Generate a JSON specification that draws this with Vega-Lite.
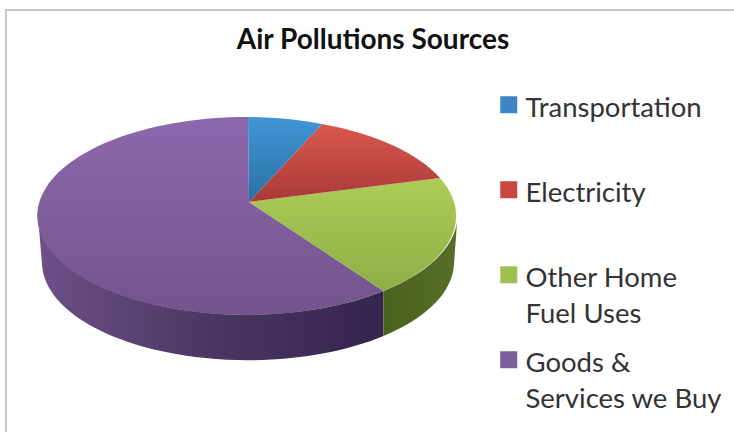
{"$schema":"https://vega.github.io/schema/vega-lite/v6.json","width":734,"height":426,"autosize":"none","padding":{"left":6,"top":10,"right":-6,"bottom":-4},"background":"#ffffff","view":{"stroke":"#c8c8c8","strokeWidth":2,"fill":null},"title":{"text":"Air Pollutions Sources","font":"Lato","fontSize":28,"fontWeight":"bold","color":"#111111","anchor":"middle","baseline":"alphabetic","offset":0,"dy":67},"data":{"values":[{"source":"Transportation","share":7},{"source":"Electricity","share":13},{"source":"Other Home Fuel Uses","share":19},{"source":"Goods & Services we Buy","share":61}]},"layer":[{"mark":{"type":"point","filled":true,"size":4,"opacity":1,"shape":"square"},"encoding":{"color":{"field":"source","type":"nominal","sort":null,"scale":{"domain":["Transportation","Electricity","Other Home Fuel Uses","Goods & Services we Buy"],"range":["#3d85c4","#c8473f","#9fc04f","#7e5d9d"]},"legend":{"title":null,"orient":"none","legendX":489,"legendY":81,"symbolType":"square","symbolSize":289,"symbolStrokeWidth":0,"labelFont":"Lato","labelFontSize":27.5,"labelColor":"#333333","labelLimit":300,"labelOffset":3,"labelBaseline":"middle","gridAlign":"all","rowPadding":17,"labelExpr":"datum.label=='Other Home Fuel Uses'?['Other Home','Fuel Uses']:datum.label=='Goods & Services we Buy'?['Goods &','Services we Buy']:datum.label","encoding":{"labels":{"lineHeight":{"value":36},"dy":{"value":4}}}}}}},{"mark":{"type":"point","filled":true,"size":4,"opacity":1},"transform":[{"filter":"datum.source=='Goods & Services we Buy'"}],"encoding":{"shape":{"value":"M10.5,68 A209.5,99 0 0 1 -335,-7 L-331,41 A206,98 0 0 0 10.5,113 Z"},"fill":{"value":{"x1":0,"y1":0,"x2":1,"y2":0,"gradient":"linear","stops":[{"offset":0,"color":"#6c5088"},{"offset":0.5,"color":"#4c3663"},{"offset":1,"color":"#35244e"}]}}}},{"mark":{"type":"point","filled":true,"size":4,"opacity":1},"transform":[{"filter":"datum.source=='Other Home Fuel Uses'"}],"encoding":{"shape":{"value":"M84.5,-7 A209.5,99 0 0 1 10.5,68 L10.5,113 A206,98 0 0 0 81,41 Z"},"fill":{"value":{"x1":0,"y1":0,"x2":1,"y2":0,"gradient":"linear","stops":[{"offset":0,"color":"#4b611f"},{"offset":1,"color":"#566e26"}]}}}},{"mark":{"type":"point","filled":true,"size":4,"opacity":1},"transform":[{"filter":"datum.source=='Goods & Services we Buy'"}],"encoding":{"shape":{"value":"M-124,-21 L10.5,68 A209.5,99 0 1 1 -125,-106 Z"},"fill":{"value":{"x1":0,"y1":0,"x2":0,"y2":1,"gradient":"linear","stops":[{"offset":0,"color":"#8d68ad"},{"offset":1,"color":"#73548c"}]}}}},{"mark":{"type":"point","filled":true,"size":4,"opacity":1},"transform":[{"filter":"datum.source=='Other Home Fuel Uses'"}],"encoding":{"shape":{"value":"M-124,-21 L67,-45 A209.5,99 0 0 1 10.5,68 Z"},"fill":{"value":{"x1":0,"y1":0,"x2":0,"y2":1,"gradient":"linear","stops":[{"offset":0,"color":"#abcd57"},{"offset":1,"color":"#8fad46"}]}}}},{"mark":{"type":"point","filled":true,"size":4,"opacity":1},"transform":[{"filter":"datum.source=='Electricity'"}],"encoding":{"shape":{"value":"M-124,-21 L-51,-99 A209.5,99 0 0 1 67,-45 Z"},"fill":{"value":{"x1":0,"y1":0,"x2":0,"y2":1,"gradient":"linear","stops":[{"offset":0,"color":"#d9584f"},{"offset":1,"color":"#a93a36"}]}}}},{"mark":{"type":"point","filled":true,"size":4,"opacity":1},"transform":[{"filter":"datum.source=='Transportation'"}],"encoding":{"shape":{"value":"M-124,-21 L-125,-106 A209.5,99 0 0 1 -51,-99 Z"},"fill":{"value":{"x1":0,"y1":0,"x2":0,"y2":1,"gradient":"linear","stops":[{"offset":0,"color":"#4295d6"},{"offset":1,"color":"#2b70a3"}]}}}}]}
